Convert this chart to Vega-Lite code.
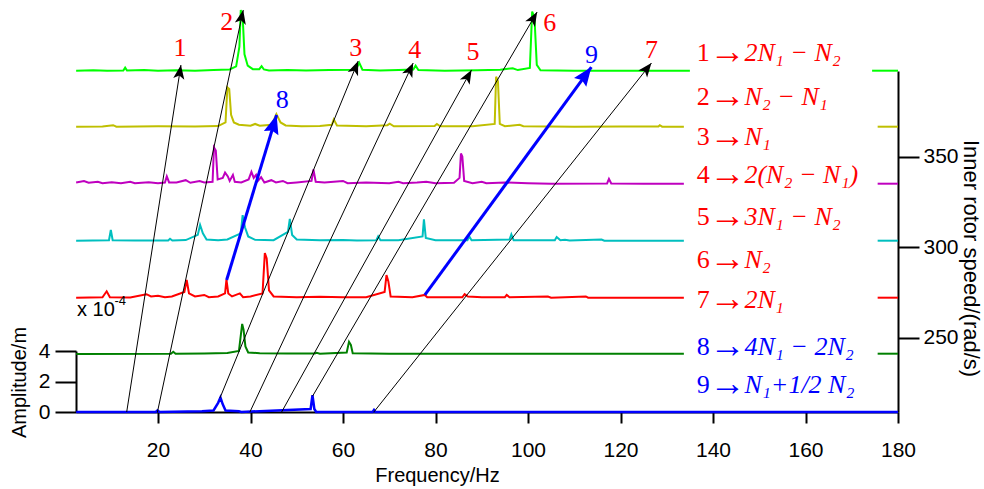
{
"$schema": "https://vega.github.io/schema/vega-lite/v6.json",
"width": 822,
"height": 341,
"autosize": {"type": "none"},
"padding": {"left": 76, "top": 71, "right": 86, "bottom": 77},
"background": "white",
"config": {
  "view": {"stroke": null},
  "axis": {"grid": false, "labelFont": "Liberation Sans", "labelFontSize": 21, "labelColor": "#000", "titleFont": "Liberation Sans", "titleFontSize": 20, "titleFontWeight": "normal", "titleColor": "#000", "domainColor": "#000", "tickColor": "#000", "domainWidth": 2, "tickWidth": 2, "labelOverlap": false}
},
"datasets": {
  "spectra": [
    {"k":"g","seg":1,"f":2.3,"a":0.02},{"k":"g","seg":1,"f":6,"a":0.05},{"k":"g","seg":1,"f":9,"a":0.02},{"k":"g","seg":1,"f":12.5,"a":0.03},{"k":"g","seg":1,"f":12.9,"a":0.22},{"k":"g","seg":1,"f":13.3,"a":0.03},{"k":"g","seg":1,"f":17,"a":0.06},{"k":"g","seg":1,"f":20,"a":0.02},{"k":"g","seg":1,"f":24,"a":0.05},{"k":"g","seg":1,"f":28,"a":0.02},{"k":"g","seg":1,"f":32,"a":0.06},{"k":"g","seg":1,"f":35.5,"a":0.1},{"k":"g","seg":1,"f":36.9,"a":0.3},{"k":"g","seg":1,"f":37.6,"a":1.6},{"k":"g","seg":1,"f":37.9,"a":4.0},{"k":"g","seg":1,"f":38.3,"a":3.6},{"k":"g","seg":1,"f":38.7,"a":1.1},{"k":"g","seg":1,"f":39.4,"a":0.35},{"k":"g","seg":1,"f":40.5,"a":0.12},{"k":"g","seg":1,"f":41.9,"a":0.12},{"k":"g","seg":1,"f":42.4,"a":0.32},{"k":"g","seg":1,"f":42.9,"a":0.1},{"k":"g","seg":1,"f":44,"a":0.03},{"k":"g","seg":1,"f":48,"a":0.06},{"k":"g","seg":1,"f":52,"a":0.03},{"k":"g","seg":1,"f":57,"a":0.06},{"k":"g","seg":1,"f":62.8,"a":0.08},{"k":"g","seg":1,"f":63.5,"a":0.55},{"k":"g","seg":1,"f":64.2,"a":0.08},{"k":"g","seg":1,"f":68,"a":0.03},{"k":"g","seg":1,"f":72,"a":0.06},{"k":"g","seg":1,"f":75.2,"a":0.1},{"k":"g","seg":1,"f":75.7,"a":0.35},{"k":"g","seg":1,"f":76.3,"a":0.06},{"k":"g","seg":1,"f":82,"a":0.02},{"k":"g","seg":1,"f":89,"a":0.05},{"k":"g","seg":1,"f":94,"a":0.08},{"k":"g","seg":1,"f":96.7,"a":0.18},{"k":"g","seg":1,"f":97.8,"a":0.06},{"k":"g","seg":1,"f":100.4,"a":0.2},{"k":"g","seg":1,"f":100.9,"a":3.9},{"k":"g","seg":1,"f":101.4,"a":3.5},{"k":"g","seg":1,"f":101.9,"a":0.4},{"k":"g","seg":1,"f":102.7,"a":0.05},{"k":"g","seg":1,"f":110,"a":0.02},{"k":"g","seg":1,"f":120,"a":0.02},{"k":"g","seg":1,"f":135.0,"a":0.02},
    {"k":"g","seg":2,"f":174.4,"a":0.02},{"k":"g","seg":2,"f":180,"a":0.02},
    {"k":"y","seg":1,"f":2.3,"a":0.02},{"k":"y","seg":1,"f":8,"a":0.03},{"k":"y","seg":1,"f":10.3,"a":0.12},{"k":"y","seg":1,"f":11,"a":0.02},{"k":"y","seg":1,"f":20,"a":0.05},{"k":"y","seg":1,"f":28,"a":0.03},{"k":"y","seg":1,"f":33,"a":0.06},{"k":"y","seg":1,"f":34.6,"a":0.3},{"k":"y","seg":1,"f":35.0,"a":2.6},{"k":"y","seg":1,"f":35.4,"a":2.5},{"k":"y","seg":1,"f":35.8,"a":0.8},{"k":"y","seg":1,"f":36.4,"a":0.3},{"k":"y","seg":1,"f":37.5,"a":0.15},{"k":"y","seg":1,"f":40,"a":0.08},{"k":"y","seg":1,"f":41,"a":0.2},{"k":"y","seg":1,"f":42,"a":0.08},{"k":"y","seg":1,"f":44.6,"a":0.15},{"k":"y","seg":1,"f":45.6,"a":0.85},{"k":"y","seg":1,"f":46.5,"a":0.3},{"k":"y","seg":1,"f":47.6,"a":0.1},{"k":"y","seg":1,"f":51,"a":0.05},{"k":"y","seg":1,"f":55,"a":0.06},{"k":"y","seg":1,"f":57.6,"a":0.15},{"k":"y","seg":1,"f":58.0,"a":0.5},{"k":"y","seg":1,"f":58.7,"a":0.1},{"k":"y","seg":1,"f":65,"a":0.05},{"k":"y","seg":1,"f":69.6,"a":0.12},{"k":"y","seg":1,"f":70.1,"a":0.22},{"k":"y","seg":1,"f":71,"a":0.05},{"k":"y","seg":1,"f":79.8,"a":0.06},{"k":"y","seg":1,"f":80.3,"a":0.2},{"k":"y","seg":1,"f":81,"a":0.05},{"k":"y","seg":1,"f":88,"a":0.05},{"k":"y","seg":1,"f":92.8,"a":0.2},{"k":"y","seg":1,"f":93.1,"a":3.3},{"k":"y","seg":1,"f":93.5,"a":3.0},{"k":"y","seg":1,"f":93.9,"a":0.2},{"k":"y","seg":1,"f":95,"a":0.05},{"k":"y","seg":1,"f":98.2,"a":0.15},{"k":"y","seg":1,"f":99,"a":0.05},{"k":"y","seg":1,"f":110,"a":0.02},{"k":"y","seg":1,"f":120,"a":0.03},{"k":"y","seg":1,"f":128.2,"a":0.03},{"k":"y","seg":1,"f":128.5,"a":0.12},{"k":"y","seg":1,"f":129,"a":0.02},{"k":"y","seg":1,"f":133.7,"a":0.02},
    {"k":"y","seg":2,"f":175.6,"a":0.02},{"k":"y","seg":2,"f":180,"a":0.02},
    {"k":"m","seg":1,"f":2.3,"a":0.1},{"k":"m","seg":1,"f":4,"a":0.2},{"k":"m","seg":1,"f":5,"a":0.08},{"k":"m","seg":1,"f":7,"a":0.15},{"k":"m","seg":1,"f":8,"a":0.05},{"k":"m","seg":1,"f":10,"a":0.12},{"k":"m","seg":1,"f":12,"a":0.05},{"k":"m","seg":1,"f":14,"a":0.15},{"k":"m","seg":1,"f":15,"a":0.05},{"k":"m","seg":1,"f":18,"a":0.12},{"k":"m","seg":1,"f":20,"a":0.05},{"k":"m","seg":1,"f":21.5,"a":0.1},{"k":"m","seg":1,"f":21.9,"a":0.5},{"k":"m","seg":1,"f":22.4,"a":0.1},{"k":"m","seg":1,"f":24,"a":0.1},{"k":"m","seg":1,"f":26,"a":0.25},{"k":"m","seg":1,"f":27,"a":0.08},{"k":"m","seg":1,"f":29,"a":0.2},{"k":"m","seg":1,"f":30,"a":0.1},{"k":"m","seg":1,"f":31.8,"a":0.15},{"k":"m","seg":1,"f":32.1,"a":2.4},{"k":"m","seg":1,"f":32.5,"a":2.2},{"k":"m","seg":1,"f":32.9,"a":0.3},{"k":"m","seg":1,"f":34,"a":0.4},{"k":"m","seg":1,"f":34.5,"a":0.75},{"k":"m","seg":1,"f":35.1,"a":0.5},{"k":"m","seg":1,"f":35.5,"a":0.2},{"k":"m","seg":1,"f":36.2,"a":0.6},{"k":"m","seg":1,"f":36.6,"a":0.15},{"k":"m","seg":1,"f":38,"a":0.1},{"k":"m","seg":1,"f":39.6,"a":0.3},{"k":"m","seg":1,"f":40.2,"a":0.8},{"k":"m","seg":1,"f":40.7,"a":0.4},{"k":"m","seg":1,"f":41.2,"a":0.6},{"k":"m","seg":1,"f":41.6,"a":0.2},{"k":"m","seg":1,"f":42.3,"a":0.45},{"k":"m","seg":1,"f":43,"a":0.1},{"k":"m","seg":1,"f":44.5,"a":0.25},{"k":"m","seg":1,"f":45.5,"a":0.1},{"k":"m","seg":1,"f":47,"a":0.2},{"k":"m","seg":1,"f":48,"a":0.05},{"k":"m","seg":1,"f":50,"a":0.1},{"k":"m","seg":1,"f":53.2,"a":0.2},{"k":"m","seg":1,"f":53.6,"a":0.95},{"k":"m","seg":1,"f":54.1,"a":0.15},{"k":"m","seg":1,"f":56,"a":0.1},{"k":"m","seg":1,"f":60,"a":0.2},{"k":"m","seg":1,"f":61,"a":0.05},{"k":"m","seg":1,"f":65,"a":0.1},{"k":"m","seg":1,"f":70,"a":0.05},{"k":"m","seg":1,"f":72,"a":0.15},{"k":"m","seg":1,"f":73,"a":0.05},{"k":"m","seg":1,"f":76,"a":0.1},{"k":"m","seg":1,"f":78,"a":0.15},{"k":"m","seg":1,"f":80,"a":0.05},{"k":"m","seg":1,"f":84,"a":0.08},{"k":"m","seg":1,"f":85.2,"a":0.4},{"k":"m","seg":1,"f":85.5,"a":2.0},{"k":"m","seg":1,"f":85.8,"a":1.8},{"k":"m","seg":1,"f":86.2,"a":0.2},{"k":"m","seg":1,"f":88,"a":0.05},{"k":"m","seg":1,"f":90,"a":0.15},{"k":"m","seg":1,"f":91,"a":0.05},{"k":"m","seg":1,"f":95,"a":0.1},{"k":"m","seg":1,"f":100,"a":0.05},{"k":"m","seg":1,"f":105,"a":0.02},{"k":"m","seg":1,"f":117.1,"a":0.04},{"k":"m","seg":1,"f":117.5,"a":0.33},{"k":"m","seg":1,"f":118,"a":0.03},{"k":"m","seg":1,"f":125,"a":0.02},{"k":"m","seg":1,"f":133.7,"a":0.02},
    {"k":"m","seg":2,"f":175.6,"a":0.02},{"k":"m","seg":2,"f":180,"a":0.02},
    {"k":"c","seg":1,"f":2.3,"a":0.02},{"k":"c","seg":1,"f":9.4,"a":0.05},{"k":"c","seg":1,"f":9.8,"a":0.72},{"k":"c","seg":1,"f":10.2,"a":0.05},{"k":"c","seg":1,"f":15,"a":0.03},{"k":"c","seg":1,"f":22.2,"a":0.04},{"k":"c","seg":1,"f":22.6,"a":0.15},{"k":"c","seg":1,"f":23.1,"a":0.03},{"k":"c","seg":1,"f":26,"a":0.06},{"k":"c","seg":1,"f":28.6,"a":0.4},{"k":"c","seg":1,"f":29.1,"a":1.05},{"k":"c","seg":1,"f":29.7,"a":0.5},{"k":"c","seg":1,"f":30.5,"a":0.1},{"k":"c","seg":1,"f":33,"a":0.05},{"k":"c","seg":1,"f":35,"a":0.1},{"k":"c","seg":1,"f":37.9,"a":0.5},{"k":"c","seg":1,"f":38.3,"a":1.7},{"k":"c","seg":1,"f":38.8,"a":0.9},{"k":"c","seg":1,"f":39.5,"a":0.3},{"k":"c","seg":1,"f":41,"a":0.08},{"k":"c","seg":1,"f":45,"a":0.05},{"k":"c","seg":1,"f":48.1,"a":0.6},{"k":"c","seg":1,"f":48.5,"a":1.45},{"k":"c","seg":1,"f":49,"a":0.4},{"k":"c","seg":1,"f":50,"a":0.1},{"k":"c","seg":1,"f":55,"a":0.05},{"k":"c","seg":1,"f":60,"a":0.06},{"k":"c","seg":1,"f":63,"a":0.03},{"k":"c","seg":1,"f":67.2,"a":0.05},{"k":"c","seg":1,"f":67.6,"a":0.3},{"k":"c","seg":1,"f":68.1,"a":0.05},{"k":"c","seg":1,"f":72,"a":0.05},{"k":"c","seg":1,"f":77.2,"a":0.3},{"k":"c","seg":1,"f":77.5,"a":1.42},{"k":"c","seg":1,"f":77.9,"a":0.2},{"k":"c","seg":1,"f":80,"a":0.05},{"k":"c","seg":1,"f":86.9,"a":0.05},{"k":"c","seg":1,"f":87.3,"a":0.3},{"k":"c","seg":1,"f":87.8,"a":0.05},{"k":"c","seg":1,"f":96.0,"a":0.1},{"k":"c","seg":1,"f":96.4,"a":0.44},{"k":"c","seg":1,"f":96.9,"a":0.05},{"k":"c","seg":1,"f":100,"a":0.05},{"k":"c","seg":1,"f":105.8,"a":0.05},{"k":"c","seg":1,"f":106.2,"a":0.26},{"k":"c","seg":1,"f":107,"a":0.05},{"k":"c","seg":1,"f":108,"a":0.08},{"k":"c","seg":1,"f":109,"a":0.03},{"k":"c","seg":1,"f":115.9,"a":0.1},{"k":"c","seg":1,"f":116.5,"a":0.02},{"k":"c","seg":1,"f":133.7,"a":0.02},
    {"k":"c","seg":2,"f":175.6,"a":0.02},{"k":"c","seg":2,"f":180,"a":0.02},
    {"k":"r","seg":1,"f":2.3,"a":0.02},{"k":"r","seg":1,"f":8,"a":0.05},{"k":"r","seg":1,"f":8.9,"a":0.44},{"k":"r","seg":1,"f":9.6,"a":0.05},{"k":"r","seg":1,"f":14,"a":0.03},{"k":"r","seg":1,"f":17.5,"a":0.25},{"k":"r","seg":1,"f":18.5,"a":0.1},{"k":"r","seg":1,"f":20,"a":0.15},{"k":"r","seg":1,"f":21.5,"a":0.05},{"k":"r","seg":1,"f":23,"a":0.1},{"k":"r","seg":1,"f":25.7,"a":0.4},{"k":"r","seg":1,"f":26.2,"a":1.18},{"k":"r","seg":1,"f":26.7,"a":0.3},{"k":"r","seg":1,"f":28,"a":0.1},{"k":"r","seg":1,"f":30,"a":0.2},{"k":"r","seg":1,"f":31,"a":0.05},{"k":"r","seg":1,"f":33,"a":0.1},{"k":"r","seg":1,"f":34.5,"a":0.3},{"k":"r","seg":1,"f":34.8,"a":1.2},{"k":"r","seg":1,"f":35.2,"a":0.3},{"k":"r","seg":1,"f":36,"a":0.1},{"k":"r","seg":1,"f":37.7,"a":0.3},{"k":"r","seg":1,"f":38.4,"a":0.05},{"k":"r","seg":1,"f":40,"a":0.1},{"k":"r","seg":1,"f":42.6,"a":0.3},{"k":"r","seg":1,"f":43.1,"a":2.95},{"k":"r","seg":1,"f":43.5,"a":2.6},{"k":"r","seg":1,"f":44,"a":0.5},{"k":"r","seg":1,"f":45,"a":0.1},{"k":"r","seg":1,"f":50,"a":0.05},{"k":"r","seg":1,"f":55,"a":0.08},{"k":"r","seg":1,"f":60,"a":0.05},{"k":"r","seg":1,"f":65,"a":0.05},{"k":"r","seg":1,"f":69.0,"a":0.4},{"k":"r","seg":1,"f":69.4,"a":1.5},{"k":"r","seg":1,"f":69.8,"a":1.1},{"k":"r","seg":1,"f":70.3,"a":0.1},{"k":"r","seg":1,"f":75,"a":0.05},{"k":"r","seg":1,"f":77.7,"a":0.2},{"k":"r","seg":1,"f":78.2,"a":0.05},{"k":"r","seg":1,"f":85.8,"a":0.05},{"k":"r","seg":1,"f":86.3,"a":0.25},{"k":"r","seg":1,"f":87,"a":0.1},{"k":"r","seg":1,"f":90,"a":0.05},{"k":"r","seg":1,"f":95.0,"a":0.05},{"k":"r","seg":1,"f":95.4,"a":0.2},{"k":"r","seg":1,"f":96,"a":0.05},{"k":"r","seg":1,"f":104.3,"a":0.1},{"k":"r","seg":1,"f":105,"a":0.02},{"k":"r","seg":1,"f":112.5,"a":0.1},{"k":"r","seg":1,"f":113,"a":0.02},{"k":"r","seg":1,"f":120,"a":0.02},{"k":"r","seg":1,"f":133.7,"a":0.02},
    {"k":"r","seg":2,"f":175.6,"a":0.02},{"k":"r","seg":2,"f":180,"a":0.02},
    {"k":"d","seg":1,"f":2.3,"a":0.0},{"k":"d","seg":1,"f":22.8,"a":0.02},{"k":"d","seg":1,"f":23.3,"a":0.15},{"k":"d","seg":1,"f":23.8,"a":0.02},{"k":"d","seg":1,"f":30,"a":0.03},{"k":"d","seg":1,"f":35,"a":0.06},{"k":"d","seg":1,"f":37.5,"a":0.2},{"k":"d","seg":1,"f":38.2,"a":1.97},{"k":"d","seg":1,"f":38.5,"a":1.6},{"k":"d","seg":1,"f":38.9,"a":0.5},{"k":"d","seg":1,"f":39.5,"a":0.1},{"k":"d","seg":1,"f":42,"a":0.05},{"k":"d","seg":1,"f":48,"a":0.03},{"k":"d","seg":1,"f":53.9,"a":0.03},{"k":"d","seg":1,"f":54.3,"a":0.08},{"k":"d","seg":1,"f":55,"a":0.02},{"k":"d","seg":1,"f":60.8,"a":0.1},{"k":"d","seg":1,"f":61.3,"a":0.8},{"k":"d","seg":1,"f":61.7,"a":0.6},{"k":"d","seg":1,"f":62.1,"a":0.05},{"k":"d","seg":1,"f":70,"a":0.02},{"k":"d","seg":1,"f":133.7,"a":0.02},
    {"k":"d","seg":2,"f":175.6,"a":0.02},{"k":"d","seg":2,"f":180,"a":0.02},
    {"k":"b","seg":1,"f":2.3,"a":0},{"k":"b","seg":1,"f":19.5,"a":0},{"k":"b","seg":1,"f":19.9,"a":0.1},{"k":"b","seg":1,"f":20.3,"a":0},{"k":"b","seg":1,"f":29.5,"a":0.05},{"k":"b","seg":1,"f":32,"a":0.1},{"k":"b","seg":1,"f":33.0,"a":0.6},{"k":"b","seg":1,"f":33.5,"a":0.95},{"k":"b","seg":1,"f":34,"a":0.5},{"k":"b","seg":1,"f":34.6,"a":0.1},{"k":"b","seg":1,"f":37.5,"a":0.05},{"k":"b","seg":1,"f":38,"a":0},{"k":"b","seg":1,"f":53,"a":0.2},{"k":"b","seg":1,"f":53.4,"a":1.1},{"k":"b","seg":1,"f":53.8,"a":0.2},{"k":"b","seg":1,"f":54.2,"a":0},{"k":"b","seg":1,"f":66.4,"a":0},{"k":"b","seg":1,"f":66.7,"a":0.13},{"k":"b","seg":1,"f":67,"a":0},{"k":"b","seg":1,"f":180,"a":0}
  ],
  "arrows": [
    {"id":1,"kind":"black","f1":13.23,"s1":209,"f2":24.96,"s2":400.8},
    {"id":2,"kind":"black","f1":19.88,"s1":209,"f2":38.43,"s2":431.2},
    {"id":3,"kind":"black","f1":33.39,"s1":216.7,"f2":63.28,"s2":403.0},
    {"id":4,"kind":"black","f1":39.87,"s1":209,"f2":75.17,"s2":401.9},
    {"id":5,"kind":"black","f1":46.73,"s1":209,"f2":87.79,"s2":398.1},
    {"id":6,"kind":"black","f1":53.43,"s1":217.8,"f2":101.97,"s2":430.1},
    {"id":7,"kind":"black","f1":66.67,"s1":209,"f2":126.69,"s2":401.9},
    {"id":8,"kind":"blue","f1":34.84,"s1":282.0,"f2":45.65,"s2":373.2},
    {"id":9,"kind":"blue","f1":77.7,"s1":273.7,"f2":113.7,"s2":399.7}
  ],
  "labels": [
    {"t":"1","grp":"main","f":24.75,"s":410.2},
    {"t":"2","grp":"main","f":34.84,"s":424.6},
    {"t":"3","grp":"main","f":62.78,"s":410.2},
    {"t":"4","grp":"main","f":75.53,"s":409.1},
    {"t":"5","grp":"main","f":88.13,"s":408.0},
    {"t":"6","grp":"main","f":104.71,"s":424.0},
    {"t":"7","grp":"main","f":126.69,"s":409.1},
    {"t":"8","grp":"extra","f":46.86,"s":381.5},
    {"t":"9","grp":"extra","f":113.72,"s":406.3}
  ],
  "legend": [
    {"n":"1","e":"2N₁ − N₂","grp":"main","s":407.5},
    {"n":"2","e":"N₂ − N₁","grp":"main","s":383.1},
    {"n":"3","e":"N₁","grp":"main","s":361.0},
    {"n":"4","e":"2(N₂ − N₁)","grp":"main","s":340.0},
    {"n":"5","e":"3N₁ − N₂","grp":"main","s":316.8},
    {"n":"6","e":"N₂","grp":"main","s":293.0},
    {"n":"7","e":"2N₁","grp":"main","s":270.9},
    {"n":"8","e":"4N₁ − 2N₂","grp":"extra","s":244.9},
    {"n":"9","e":"N₁+1/2 N₂","grp":"extra","s":223.9}
  ],
  "notes": [
    {"t":"x 10","part":"base","f":2.49,"s":265.4},
    {"t":"-4","part":"exp","f":10.6,"s":270.4}
  ]
},
"layer": [
  {
    "data": {"name": "spectra"},
    "encoding": {
      "x": {"field": "f", "type": "quantitative", "scale": {"domain": [2.27, 180], "nice": false, "zero": false},
        "axis": {"values": [20,40,60,80,100,120,140,160,180], "tickSize": 11, "labelPadding": 16, "labelFlush": false, "title": "Frequency/Hz", "titleX": 361, "titleY": 69, "titleAlign": "center", "titleBaseline": "alphabetic"}},
      "y": {"field": "a", "type": "quantitative", "scale": {"domain": [0, 4], "range": [341, 280], "nice": false, "zero": false},
        "axis": {"orient": "left", "values": [0,2,4], "tickSize": 21, "labelPadding": 5, "title": "Amplitude/m", "titleAngle": -90, "titleX": -51, "titleY": 311, "titleAlign": "center", "titleBaseline": "alphabetic"}},
      "detail": {"field": "seg", "type": "nominal"}
    },
    "layer": [
      {"transform": [{"filter": "datum.k === 'g'"}], "mark": {"type": "line", "color": "#00FF00", "strokeWidth": 2, "yOffset": -341}},
      {"transform": [{"filter": "datum.k === 'y'"}], "mark": {"type": "line", "color": "#BFBF00", "strokeWidth": 2, "yOffset": -285}},
      {"transform": [{"filter": "datum.k === 'm'"}], "mark": {"type": "line", "color": "#BF00BF", "strokeWidth": 2, "yOffset": -228}},
      {"transform": [{"filter": "datum.k === 'c'"}], "mark": {"type": "line", "color": "#00BFBF", "strokeWidth": 2, "yOffset": -171}},
      {"transform": [{"filter": "datum.k === 'r'"}], "mark": {"type": "line", "color": "#FF0000", "strokeWidth": 2, "yOffset": -114}},
      {"transform": [{"filter": "datum.k === 'd'"}], "mark": {"type": "line", "color": "#008000", "strokeWidth": 2, "yOffset": -58}},
      {"transform": [{"filter": "datum.k === 'b'"}], "mark": {"type": "line", "color": "#0000FF", "strokeWidth": 2.5}}
    ]
  },
  {
    "layer": [
      {
        "data": {"name": "arrows"},
        "transform": [{"filter": "datum.kind === 'black'"}],
        "mark": {"type": "rule", "color": "#000000", "strokeWidth": 1},
        "encoding": {
          "x": {"field": "f1", "type": "quantitative", "scale": {"domain": [2.27, 180], "nice": false, "zero": false}},
          "x2": {"field": "f2"},
          "y": {"field": "s1", "type": "quantitative", "scale": {"domain": [209, 397.5], "nice": false, "zero": false},
            "axis": {"orient": "right", "values": [250,300,350], "tickSize": 21, "labelPadding": 4, "title": "Inner rotor speed/(rad/s)", "titleFontSize": 22, "titleAngle": 90, "titleX": 65, "titleY": 187, "titleAlign": "center", "titleBaseline": "alphabetic"}},
          "y2": {"field": "s2"}
        }
      },
      {
        "data": {"name": "arrows"},
        "transform": [{"filter": "datum.kind === 'blue'"}],
        "mark": {"type": "rule", "color": "#0000FF", "strokeWidth": 3},
        "encoding": {
          "x": {"field": "f1", "type": "quantitative"},
          "x2": {"field": "f2"},
          "y": {"field": "s1", "type": "quantitative"},
          "y2": {"field": "s2"}
        }
      },
      {
        "data": {"name": "arrows"},
        "transform": [{"filter": "datum.kind === 'black'"}, {"calculate": "atan2((datum.f2 - datum.f1) * 4.625, (datum.s2 - datum.s1) * 1.809) * 180 / PI", "as": "ang"}],
        "mark": {"type": "point", "shape": "M0,0 L0.4,1 L0,0.75 L-0.4,1 Z", "filled": true, "color": "#000000", "opacity": 1, "size": 784, "strokeWidth": 0},
        "encoding": {
          "x": {"field": "f2", "type": "quantitative"},
          "y": {"field": "s2", "type": "quantitative"},
          "angle": {"field": "ang", "type": "quantitative", "scale": null}
        }
      },
      {
        "data": {"name": "arrows"},
        "transform": [{"filter": "datum.kind === 'blue'"}, {"calculate": "atan2((datum.f2 - datum.f1) * 4.625, (datum.s2 - datum.s1) * 1.809) * 180 / PI", "as": "ang"}],
        "mark": {"type": "point", "shape": "M0,0 L0.4,1 L0,0.85 L-0.4,1 Z", "filled": true, "color": "#0000FF", "opacity": 1, "size": 1444, "strokeWidth": 0},
        "encoding": {
          "x": {"field": "f2", "type": "quantitative"},
          "y": {"field": "s2", "type": "quantitative"},
          "angle": {"field": "ang", "type": "quantitative", "scale": null}
        }
      },
      {
        "data": {"name": "labels"},
        "mark": {"type": "text", "font": "Liberation Serif", "fontSize": 26, "align": "center", "baseline": "middle"},
        "encoding": {
          "x": {"field": "f", "type": "quantitative"},
          "y": {"field": "s", "type": "quantitative"},
          "text": {"field": "t"},
          "color": {"field": "grp", "type": "nominal", "scale": {"domain": ["main", "extra"], "range": ["#FF0000", "#0000FF"]}, "legend": null}
        }
      },
      {
        "data": {"name": "legend"},
        "mark": {"type": "text", "font": "Liberation Serif", "fontSize": 26, "align": "left", "baseline": "middle"},
        "encoding": {
          "x": {"datum": 136.5, "type": "quantitative"},
          "y": {"field": "s", "type": "quantitative"},
          "text": {"field": "n"},
          "color": {"field": "grp", "type": "nominal", "legend": null}
        }
      },
      {
        "data": {"name": "legend"},
        "mark": {"type": "text", "font": "Liberation Serif", "fontSize": 36, "align": "left", "baseline": "middle", "dy": -1},
        "encoding": {
          "x": {"datum": 139.3, "type": "quantitative"},
          "y": {"field": "s", "type": "quantitative"},
          "text": {"value": "→"},
          "color": {"field": "grp", "type": "nominal", "legend": null}
        }
      },
      {
        "data": {"name": "legend"},
        "mark": {"type": "text", "font": "Liberation Serif, DejaVu Serif", "fontSize": 26, "fontStyle": "italic", "align": "left", "baseline": "middle"},
        "encoding": {
          "x": {"datum": 146.8, "type": "quantitative"},
          "y": {"field": "s", "type": "quantitative"},
          "text": {"field": "e"},
          "color": {"field": "grp", "type": "nominal", "legend": null}
        }
      },
      {
        "data": {"name": "notes"},
        "transform": [{"filter": "datum.part === 'base'"}],
        "mark": {"type": "text", "font": "Liberation Sans", "fontSize": 20, "align": "left", "baseline": "middle", "color": "#000000"},
        "encoding": {
          "x": {"field": "f", "type": "quantitative"},
          "y": {"field": "s", "type": "quantitative"},
          "text": {"field": "t"}
        }
      },
      {
        "data": {"name": "notes"},
        "transform": [{"filter": "datum.part === 'exp'"}],
        "mark": {"type": "text", "font": "Liberation Sans", "fontSize": 13, "align": "left", "baseline": "middle", "color": "#000000"},
        "encoding": {
          "x": {"field": "f", "type": "quantitative"},
          "y": {"field": "s", "type": "quantitative"},
          "text": {"field": "t"}
        }
      }
    ]
  }
],
"resolve": {"scale": {"y": "independent"}}
}
